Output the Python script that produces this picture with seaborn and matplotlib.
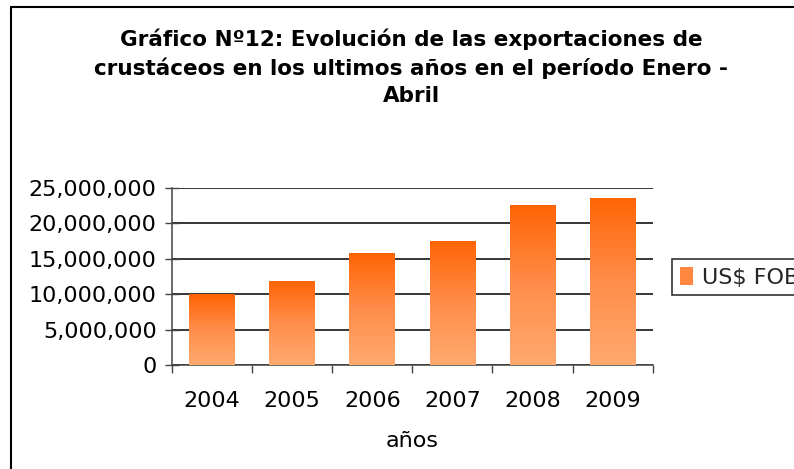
import numpy as np
import pandas as pd
import seaborn as sns
import matplotlib.pyplot as plt
from matplotlib.patches import Rectangle
from matplotlib.colors import LinearSegmentedColormap
from matplotlib.ticker import FuncFormatter, FixedLocator

# data
years = ['2004', '2005', '2006', '2007', '2008', '2009']
us_fob = [10000000, 11900000, 15800000, 17500000, 22600000, 23600000]

df = pd.DataFrame({'anio': years, 'US$ FOB': us_fob})

sns.set_theme(style="white")
plt.rcParams['font.family'] = ['DejaVu Sans']

fig = plt.figure(figsize=(7.94, 4.69), dpi=100)
ax = fig.add_axes([0.2166, 0.2217, 0.822 - 0.2166, 0.599 - 0.2217])

ax = sns.barplot(x='anio', y='US$ FOB', data=df, color='#ff6a10', width=0.57,
                 saturation=1, ax=ax, zorder=3)

# gradient fill clipped to each bar
cmap = LinearSegmentedColormap.from_list('naranja', ['#ffaa70', '#ff8d4a', '#ff6404'])
grad = np.linspace(0, 1, 256).reshape(-1, 1)
for bar in ax.patches:
    x0, y0 = bar.get_x(), bar.get_y()
    w, h = bar.get_width(), bar.get_height()
    im = ax.imshow(grad, cmap=cmap, origin='lower', aspect='auto',
                   extent=[x0, x0 + w, y0, y0 + h], zorder=4)
    im.set_clip_path(bar)
    bar.set_edgecolor('none')

ax.set_xlim(-0.5, 5.5)
ax.set_ylim(0, 25000000)
ax.set_yticks(range(0, 25000001, 5000000))
ax.yaxis.set_major_formatter(FuncFormatter(lambda v, p: f'{int(v):,}'))

ax.yaxis.grid(True, color='black', linewidth=1.1, zorder=0)
ax.set_axisbelow(True)

for s in ['top', 'right']:
    ax.spines[s].set_visible(False)
for s in ['left', 'bottom']:
    ax.spines[s].set_color('#444444')
    ax.spines[s].set_linewidth(1.1)

ax.tick_params(axis='y', which='major', direction='inout', length=10, width=1,
               color='#444444', left=True, labelsize=16, pad=6, labelcolor='black')
ax.tick_params(axis='x', which='major', length=0, labelsize=16, pad=19, labelcolor='black')
ax.xaxis.set_minor_locator(FixedLocator(np.arange(-0.5, 6, 1)))
ax.tick_params(axis='x', which='minor', direction='out', length=6, width=1,
               color='#444444', bottom=True)

ax.set_xlabel('años', fontsize=16, labelpad=14, color='black')
ax.set_ylabel('')

fig.text(0.518, 1 - 29 / 469,
         'Gráfico Nº12: Evolución de las exportaciones de\n'
         'crustáceos en los ultimos años en el período Enero -\nAbril',
         ha='center', va='top', fontsize=15.5, fontweight='bold',
         linespacing=1.42, color='black')

# legend
leg_patch = Rectangle((0, 0), 1, 1, facecolor='#ff8840', edgecolor='none')
leg = fig.legend([leg_patch], ['US$ FOB'], loc='upper left',
                 bbox_to_anchor=(672 / 794, 1 - 259 / 469), fontsize=16,
                 frameon=True, fancybox=False, handlelength=0.6, handleheight=0.9,
                 handletextpad=0.4, borderpad=0.35, borderaxespad=0)
leg.get_frame().set_edgecolor('black')
leg.get_frame().set_linewidth(1.2)

# outer chart border (cropped on right and bottom)
fig.patches.append(Rectangle((11 / 794, -0.1), 1.2, 1 - 7 / 469 + 0.1,
                             transform=fig.transFigure, fill=False,
                             edgecolor='black', linewidth=1.5))

fig.savefig('out.png', dpi=100)
